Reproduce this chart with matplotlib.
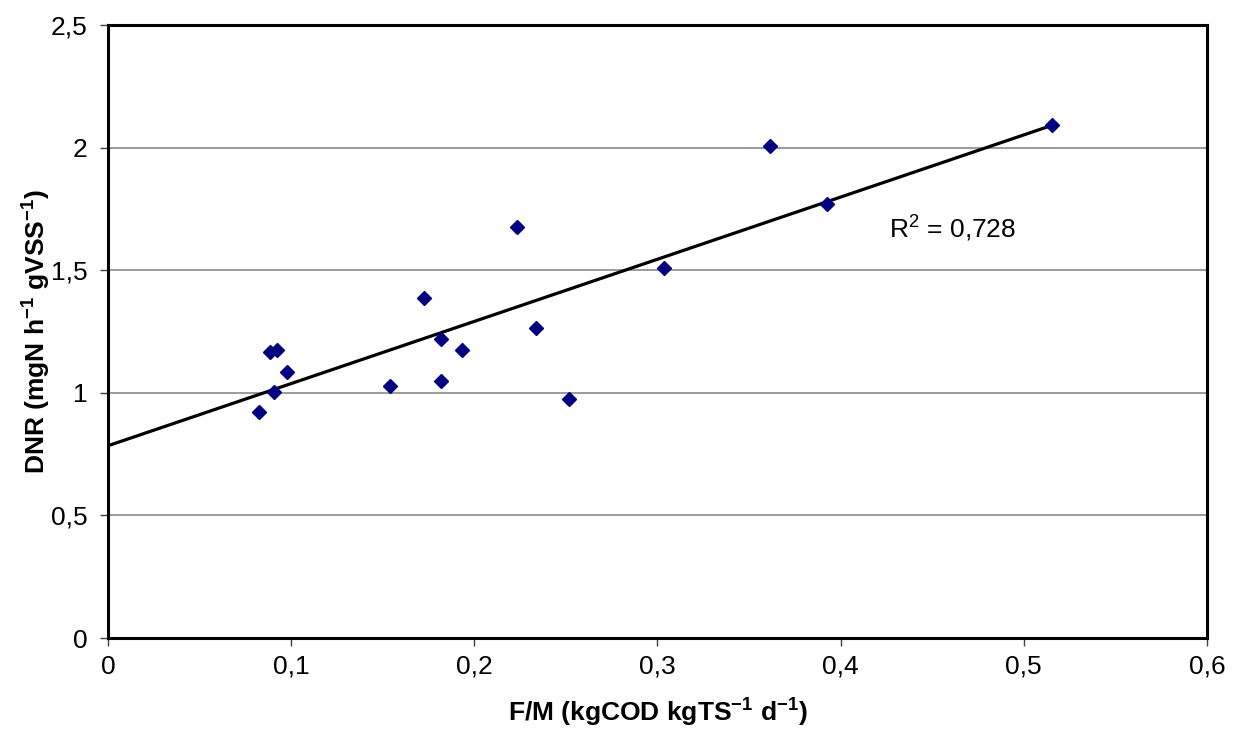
import numpy as np
import matplotlib
matplotlib.use('agg')
import matplotlib.pyplot as plt
from matplotlib.ticker import FuncFormatter, MultipleLocator

plt.rcParams['font.family'] = ['Liberation Sans', 'DejaVu Sans']
plt.rcParams['mathtext.fontset'] = 'custom'
plt.rcParams['mathtext.rm'] = 'Liberation Sans'
plt.rcParams['mathtext.bf'] = 'Liberation Sans:bold'

# F/M ratio vs denitrification rate
fm = [0.0826, 0.0884, 0.0921, 0.0906, 0.0975, 0.154, 0.1727, 0.1816, 0.1816,
      0.1934, 0.2233, 0.2336, 0.2515, 0.3035, 0.3615, 0.3925, 0.5154]
dnr = [0.923, 1.168, 1.175, 1.002, 1.084, 1.029, 1.387, 1.219, 1.049,
       1.173, 1.676, 1.264, 0.973, 1.508, 2.006, 1.769, 2.092]
r2_text = 'R$^2$ = 0,728'

x = np.array(fm)
y = np.array(dnr)
slope, icpt = np.polyfit(x, y, 1)

fig = plt.figure(figsize=(12.34, 7.37), dpi=100)
ax = fig.add_axes([0.0875, 0.1343, 0.8906, 0.8318])

ax.set_xlim(0, 0.6)
ax.set_ylim(0, 2.5)
ax.xaxis.set_major_locator(MultipleLocator(0.1))
ax.yaxis.set_major_locator(MultipleLocator(0.5))
comma = FuncFormatter(lambda v, p: ('%g' % round(v, 3)).replace('.', ','))
ax.xaxis.set_major_formatter(comma)
ax.yaxis.set_major_formatter(comma)

ax.grid(axis='y', color='#808080', linewidth=1.1)
ax.set_axisbelow(True)

xs = np.array([0, x.max()])
ax.plot(xs, icpt + slope * xs, color='black', linewidth=2.3, zorder=2)
ax.plot(x, y, linestyle='none', marker='D', markersize=6.8,
        color='#000080', markeredgecolor='#000080', zorder=3)

ax.text(0.4263, 1.635, r2_text, fontsize=19, ha='left', va='baseline')

for s in ax.spines.values():
    s.set_linewidth(2.2)
    s.set_color('black')
ax.tick_params(direction='out', length=6, width=1, color='#404040',
               labelsize=19)
ax.tick_params(axis='x', pad=6)
ax.tick_params(axis='y', pad=9)

ax.set_xlabel(r'F/M (kgCOD kgTS$^{\mathbf{-1}}$ d$^{\mathbf{-1}}$)',
              fontsize=19, fontweight='bold', labelpad=12)
ax.set_ylabel(r'DNR (mgN h$^{\mathbf{-1}}$ gVSS$^{\mathbf{-1}}$)',
              fontsize=19, fontweight='bold')
ax.yaxis.set_label_coords(-0.051, 0.5)

fig.savefig('out.png', dpi=100)
